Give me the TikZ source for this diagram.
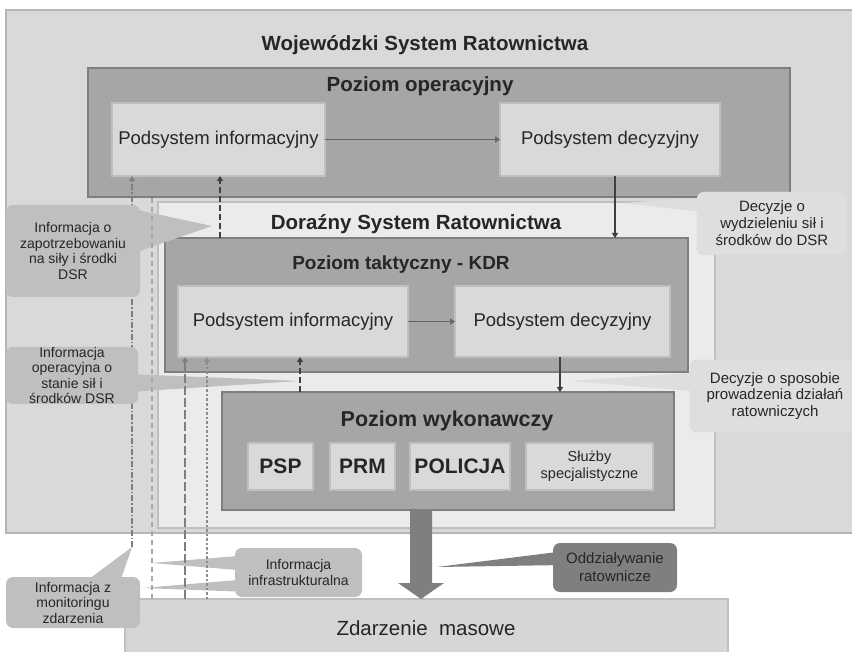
\documentclass[tikz,border=0pt]{standalone}
\usepackage{fontspec}
\setmainfont{Liberation Sans}
\usetikzlibrary{arrows.meta,calc}
\pgfdeclarelayer{bg}
\pgfdeclarelayer{tl}
\pgfsetlayers{bg,tl,main}
\definecolor{wsrfill}{HTML}{D9D9D9}
\definecolor{wsrline}{HTML}{B5B5B5}
\definecolor{lvlfill}{HTML}{A6A6A6}
\definecolor{lvlline}{HTML}{7F7F7F}
\definecolor{subfill}{HTML}{D9D9D9}
\definecolor{subline}{HTML}{BFBFBF}
\definecolor{dsrfill}{HTML}{EBEBEB}
\definecolor{zdfill}{HTML}{D6D6D6}
\definecolor{calmid}{HTML}{BFBFBF}
\definecolor{callight}{HTML}{DEDEDE}
\definecolor{caldark}{HTML}{7F7F7F}
\definecolor{txt}{HTML}{262626}
\definecolor{arrdark}{HTML}{404040}
\begin{document}
\begin{tikzpicture}[x=1pt,y=-1pt,
  box/.style={rectangle,inner sep=0pt,outer sep=0pt,anchor=north west},
  wsrbox/.style={box,draw=wsrline,fill=wsrfill,line width=1.5pt},
  lvlbox/.style={box,draw=lvlline,fill=lvlfill,line width=2pt},
  subbox/.style={rectangle,inner sep=0pt,outer sep=0pt,draw=subline,fill=subfill,line width=1.5pt,text=txt},
  dsrbox/.style={box,draw=subline,fill=dsrfill,line width=1.5pt},
  bigtitle/.style={text=txt,font=\fontsize{20.5}{24}\selectfont\bfseries},
  subtext/.style={font=\fontsize{18.5}{22}\selectfont},
  unit/.style={subbox,font=\fontsize{21}{24}\selectfont\bfseries},
  callout/.style={rectangle,rounded corners=7pt,inner sep=0pt,outer sep=0pt,anchor=north west,align=center,text=txt,font=\fontsize{14}{15.5}\selectfont},
  tip/.style={-{Triangle[width=6pt,length=5pt]}},
  dline1/.style={tip,draw=lvlline,line width=1.2pt,dash pattern=on 6pt off 2pt on 1.5pt off 2pt},
  dline2/.style={tip,draw=lvlfill,line width=2.5pt,dash pattern=on 5pt off 4pt},
  dline3/.style={tip,draw=lvlline,line width=1.5pt,dash pattern=on 9pt off 3pt},
  dline4/.style={tip,draw=lvlline!90,line width=2.5pt,dash pattern=on 2.5pt off 2pt},
  dline5/.style={tip,draw=arrdark,line width=1.5pt,dash pattern=on 6pt off 3pt},
  solidarrow/.style={tip,draw=arrdark,line width=1.5pt},
  harrow/.style={-{Triangle[width=6pt,length=5pt]},draw=lvlline!80!black,line width=1.5pt}
]
\useasboundingbox (0,0) rectangle (852,652);

\begin{pgfonlayer}{bg}
\node[wsrbox,minimum width=860pt,minimum height=523pt] (wsr) at (6,10) {};
\node[bigtitle] (wsrt) at (425,45) {Wojewódzki System Ratownictwa};

\node[lvlbox,minimum width=702pt,minimum height=129pt] (op) at (88,68) {};
\node[bigtitle] (opt) at (420,86) {Poziom operacyjny};
\node[subbox,subtext,minimum width=213pt,minimum height=73pt] (pi1) at (218.5,139.5) {Podsystem informacyjny};
\node[subbox,subtext,minimum width=220pt,minimum height=73pt] (pd1) at (610,139.5) {Podsystem decyzyjny};

\node[dsrbox,minimum width=557pt,minimum height=326pt] (dsr) at (158,202) {};
\node[bigtitle] (dsrt) at (416,224) {Doraźny System Ratownictwa};

\node[lvlbox,minimum width=523pt,minimum height=134pt] (kdr) at (165,238) {};
\node[bigtitle,font=\fontsize{19}{22}\selectfont\bfseries] (kdrt) at (401,265) {Poziom taktyczny - KDR};
\node[subbox,subtext,minimum width=230pt,minimum height=71pt] (pi2) at (293,321.5) {Podsystem informacyjny};
\node[subbox,subtext,minimum width=215pt,minimum height=71pt] (pd2) at (562.5,321.5) {Podsystem decyzyjny};

\node[lvlbox,minimum width=452pt,minimum height=118pt] (wyk) at (222,392) {};
\node[bigtitle,font=\fontsize{21.5}{24}\selectfont\bfseries] (wykt) at (447,421) {Poziom wykonawczy};
\node[unit,minimum width=65pt,minimum height=47pt] (psp) at (280.5,466.5) {PSP};
\node[unit,minimum width=65pt,minimum height=47pt] (prm) at (362.5,466.5) {PRM};
\node[unit,minimum width=100pt,minimum height=47pt] (pol) at (460,466.5) {POLICJA};
\node[subbox,minimum width=127pt,minimum height=47pt,align=center,font=\fontsize{14.5}{17}\selectfont] (slu) at (589.5,466.5) {Służby\\specjalistyczne};

\node[box,draw=subline,fill=zdfill,line width=1.5pt,minimum width=603pt,minimum height=70pt] (zd) at (125,599) {};
\node[text=txt,font=\fontsize{20.5}{24}\selectfont] (zdt) at (426,628) {Zdarzenie\ \ masowe};

% big arrow
\fill[caldark] (410,0 |- wyk.south) -- (432,0 |- wyk.south) -- (432,583) -- (444,583) -- (421,0 |- zd.north) -- (398,583) -- (410,583) -- cycle;

% solid connectors
\draw[harrow] (pi1.east) -- (pd1.west);
\draw[harrow] (pi2.east) -- (pd2.west);
\draw[solidarrow] (615,0 |- pd1.south) -- (615,0 |- kdr.north);
\draw[solidarrow] (560,0 |- pd2.south) -- (560,0 |- wyk.north);
\end{pgfonlayer}

% callout tails
\begin{pgfonlayer}{tl}
\coordinate (t1) at (212,226);
\coordinate (t2) at (300,381);
\coordinate (t3) at (622,203);
\coordinate (t4) at (570,381);
\coordinate (t5) at (132,547);
\coordinate (t6a) at (152,563);
\coordinate (t6b) at (142,588);
\coordinate (t7) at (437,567);
\fill[calmid] (t1) -- (128,208) -- (128,255) -- cycle;
\fill[calmid] (t2) -- (128,374) -- (128,392) -- cycle;
\fill[callight] (t3) -- (712,197) -- (712,213) -- cycle;
\fill[callight] (t4) -- (705,372) -- (705,392) -- cycle;
\fill[calmid] (t5) -- (85,582) -- (120,582) -- cycle;
\fill[calmid] (t6a) -- (250,555) -- (250,571) -- cycle;
\fill[calmid] (t6b) -- (250,579) -- (250,592) -- cycle;
\fill[caldark] (t7) -- (565,551) -- (565,565) -- cycle;
\end{pgfonlayer}

% dashed information flows
\draw[dline1] (t5) -- (t5 |- pi1.south);
\draw[dline2] (152,0 |- zd.north) -- (152,0 |- pi1.south);
\draw[dline3] (185,0 |- zd.north) -- (185,0 |- pi2.south);
\draw[dline4] (207,0 |- zd.north) -- (207,0 |- pi2.south);
\draw[dline5] (220,0 |- kdr.north) -- (220,0 |- pi1.south);
\draw[dline5] (300,0 |- wyk.north) -- (300,0 |- pi2.south);

% callouts
\node[callout,fill=calmid,minimum width=134pt,minimum height=92pt] (c1) at (6,205) {Informacja o\\zapotrzebowaniu\\na siły i środki\\DSR};
\node[callout,fill=calmid,minimum width=132pt,minimum height=57pt] (c2) at (6,347) {Informacja\\operacyjna o\\stanie sił i\\środków DSR};
\node[callout,fill=callight,draw=wsrfill,minimum width=150pt,minimum height=63pt,font=\fontsize{15}{17}\selectfont] (c3) at (697,192) {Decyzje o\\wydzieleniu sił i\\środków do DSR};
\node[callout,fill=callight,draw=wsrfill,minimum width=170pt,minimum height=72pt,font=\fontsize{15}{16.5}\selectfont] (c4) at (690,360) {Decyzje o sposobie\\prowadzenia działań\\ratowniczych};
\node[callout,fill=calmid,minimum width=134pt,minimum height=51pt] (c5) at (6,577) {Informacja z\\monitoringu\\zdarzenia};
\node[callout,fill=calmid,minimum width=127pt,minimum height=49pt] (c6) at (235,548) {Informacja\\infrastrukturalna};
\node[callout,fill=caldark,minimum width=124pt,minimum height=49pt,font=\fontsize{15}{18}\selectfont] (c7) at (553,543) {Oddziaływanie\\ratownicze};
\end{tikzpicture}
\end{document}
